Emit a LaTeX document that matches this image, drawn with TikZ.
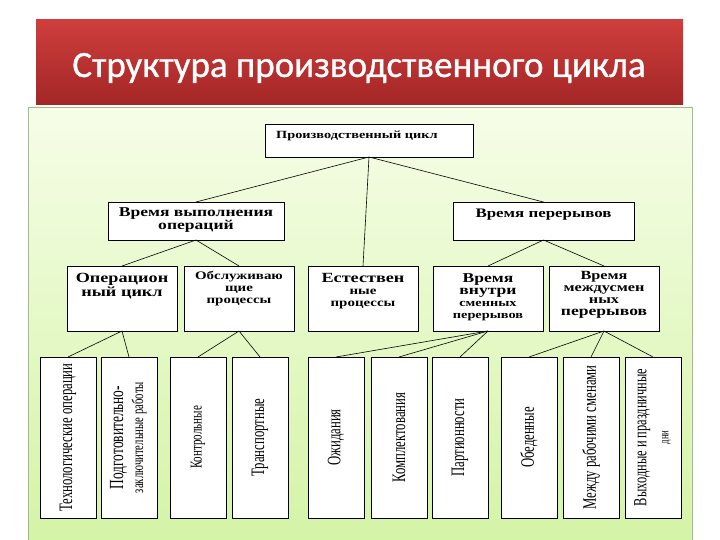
\documentclass[tikz,border=0pt]{standalone}
\usepackage{fontspec}
\usepackage{graphicx}
\usepackage{xcolor}
\usetikzlibrary{positioning}

\newfontfamily\titlefont[FakeBold=0.8]{Carlito}
\newfontfamily\hfont[FakeStretch=1.3]{Liberation Serif}
\newfontfamily\vfont[FakeStretch=0.67]{Liberation Serif}
\newcommand\fsz[2]{\fontsize{#1}{#2}\selectfont}

\definecolor{bandtop}{RGB}{206,62,60}
\definecolor{bandbot}{RGB}{163,38,38}
\definecolor{paneltop}{RGB}{246,253,232}
\definecolor{panelbot}{RGB}{212,244,166}
\definecolor{paneledge}{RGB}{165,185,145}

\begin{document}
\begin{tikzpicture}[x=1pt, y=-1pt,
    box/.style={draw, fill=white, line width=0.8pt, inner sep=0pt, outer sep=0pt},
    txt/.style={align=center, inner sep=0pt, font=\hfont\bfseries},
    vbox/.style={box, minimum width=56pt, minimum height=161pt, font=\vfont},
    link/.style={line width=0.6pt}]
    % slide
    \useasboundingbox (0,0) rectangle (720,540);
    \fill[white] (0,0) rectangle (720,540);
    \shade[top color=bandtop, bottom color=bandbot] (36,20) rectangle (683,105);
    \shadedraw[top color=paneltop, bottom color=panelbot, draw=paneledge, line width=0.6pt] (28,107) rectangle (692,541);
    \node[text=white, font=\titlefont\fsz{37}{40}] (title) at (359,68) {Структура производственного цикла};

    % top levels
    \node[box, minimum width=208pt, minimum height=33pt, anchor=north west] (cycle) at (265,124) {};
    \node[txt, below right=7pt and 11pt of cycle.north west] (cycletxt) {\fsz{11}{12}Производственный цикл};
    \node[box, minimum width=176pt, minimum height=38pt, anchor=north west] (ops) at (108,202) {};
    \node[txt, below=5pt of ops.north] (opstxt) {\fsz{13.5}{14}Время выполнения\\\fsz{13.5}{14}операций};
    \node[box, minimum width=181pt, minimum height=38pt, anchor=north west] (breaks) at (453,202) {};
    \node[txt, below=7pt of breaks.north] (breakstxt) {\fsz{13}{14}Время перерывов};

    % middle row
    \node[box, minimum width=110pt, minimum height=65pt, anchor=north west] (opcyc) at (67,266) {};
    \node[box, minimum width=110pt, minimum height=65pt, right=7pt of opcyc] (serv) {};
    \node[box, minimum width=110pt, minimum height=65pt, right=14pt of serv] (nat) {};
    \node[box, minimum width=110pt, minimum height=65pt, right=15pt of nat] (inshift) {};
    \node[box, minimum width=110pt, minimum height=65pt, right=6pt of inshift] (between) {};
    \node[txt, below=7pt of opcyc.north] (opcyctxt) {\fsz{14}{14}Операцион\\\fsz{14}{14}ный цикл};
    \node[txt, below=5pt of serv.north] (servtxt) {\fsz{11.5}{12.5}Обслуживаю\\\fsz{11.5}{12.5}щие\\\fsz{11.5}{12.5}процессы};
    \node[txt, below=7pt of nat.north] (nattxt) {\fsz{14}{13}Естествен\\\fsz{11.5}{11.5}ные\\\fsz{11.5}{11.5}процессы};
    \node[txt, below=7pt of inshift.north] (inshifttxt) {\fsz{13.5}{12.5}Время\\\fsz{13.5}{12.5}внутри\\\fsz{11}{12.5}сменных\\\fsz{11}{12}перерывов};
    \node[txt, below=5pt of between.north] (betweentxt) {\fsz{12.5}{13}Время\\\fsz{12.5}{13}междусмен\\\fsz{12.5}{13}ных\\\fsz{13.5}{15.5}перерывов};

    % bottom row
    \node[vbox, anchor=north west] (tech) at (40,357) {\rotatebox{90}{\fsz{19}{20}Технологические операции}\hspace{15pt}};
    \node[vbox, right=5pt of tech] (prep) {\rotatebox{90}{\fsz{18}{20}\begin{tabular}{@{}c@{}}\fsz{20}{20}Подготовительно-\\\fsz{16}{20}заключительные работы\end{tabular}}};
    \node[vbox, right=13pt of prep] (ctrl) {\rotatebox{90}{\fsz{16.5}{18}Контрольные}\hspace{15pt}};
    \node[vbox, right=6pt of ctrl] (trans) {\rotatebox{90}{\fsz{19}{20}Транспортные}\hspace{15pt}};
    \node[vbox, right=20pt of trans] (wait) {\rotatebox{90}{\fsz{19}{20}Ожидания}\hspace{15pt}};
    \node[vbox, right=7pt of wait] (kit) {\rotatebox{90}{\fsz{19}{20}Комплектования}\hspace{15pt}};
    \node[vbox, right=5pt of kit] (batch) {\rotatebox{90}{\fsz{19}{20}Партионности}\hspace{15pt}};
    \node[vbox, right=13pt of batch] (lunch) {\rotatebox{90}{\fsz{19}{20}Обеденные}\hspace{15pt}};
    \node[vbox, right=6pt of lunch] (shifts) {\rotatebox{90}{\fsz{19}{20}Между рабочими сменами}};
    \node[vbox, right=6pt of shifts] (days) {\rotatebox{90}{\fsz{18}{22}\begin{tabular}{@{}c@{}}\fsz{18.5}{22}Выходные и праздничные\\\fsz{13}{22}дни\end{tabular}}};

    % links
    \draw[link] (cycle.south) -- (ops.north);
    \draw[link] (cycle.south) -- (nat.north);
    \draw[link] (cycle.south) -- (breaks.north);
    \draw[link] (ops.south) -- (opcyc.north);
    \draw[link] (ops.south) -- (serv.north);
    \draw[link] (breaks.south) -- (inshift.north);
    \draw[link] (breaks.south) -- (between.north);
    \draw[link] (opcyc.south) -- (tech.north);
    \draw[link] (opcyc.south) -- (prep.north);
    \draw[link] (serv.south) -- (ctrl.north);
    \draw[link] (serv.south) -- (trans.north);
    \draw[link] (inshift.south) -- (wait.north);
    \draw[link] (inshift.south) -- (kit.north);
    \draw[link] (inshift.south) -- (batch.north);
    \draw[link] (between.south) -- (lunch.north);
    \draw[link] (between.south) -- (shifts.north);
    \draw[link] (between.south) -- (days.north);
\end{tikzpicture}
\end{document}
